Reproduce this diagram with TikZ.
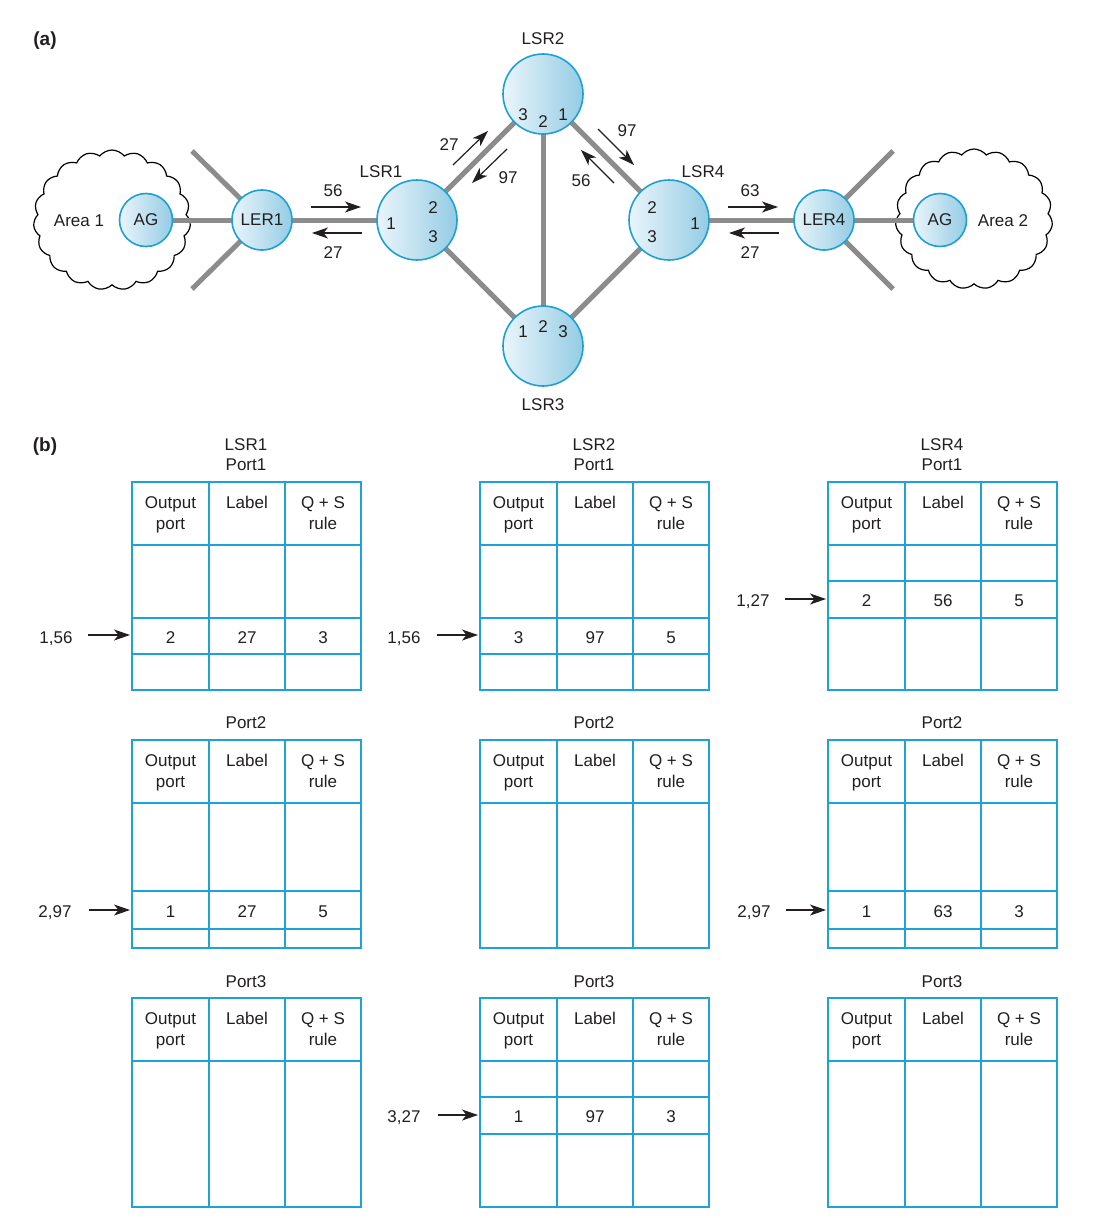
\documentclass[tikz,border=0pt]{standalone}
\usepackage{fontspec}
\setmainfont{Liberation Sans}
\usetikzlibrary{shapes.symbols,arrows.meta}
\definecolor{tblue}{RGB}{30,162,216}
\definecolor{cborder}{RGB}{28,160,214}
\definecolor{clight}{RGB}{234,245,251}
\definecolor{cdark}{RGB}{148,204,228}
\definecolor{lgray}{RGB}{140,140,140}
\definecolor{ink}{RGB}{35,31,32}
\pgfdeclarelayer{paperlayer}
\pgfdeclarelayer{cloudlayer}
\pgfdeclarelayer{linklayer}
\pgfsetlayers{paperlayer,cloudlayer,linklayer,main}
\tikzset{
  txt/.style={font=\fontsize{17}{20}\selectfont, text=ink, inner sep=0pt, anchor=base},
  boldtxt/.style={font=\fontsize{19}{21}\selectfont\bfseries, text=ink, inner sep=0pt, anchor=base},
  tbl/.style={draw=tblue, line width=2pt},
  link/.style={draw=lgray, line width=5pt},
  arr/.style={draw=ink, line width=1.2pt, -{Stealth[length=16pt,width=11pt,inset=4.5pt]}},
  router/.style={circle, draw=cborder, line width=1.6pt, left color=clight, right color=cdark, inner sep=0pt, font=\fontsize{17}{20}\selectfont, text=ink},
  lsr/.style={router, minimum size=80pt},
  ler/.style={router, minimum size=60pt},
  agn/.style={router, minimum size=53pt},
  areacloud/.style={cloud, draw=black, line width=1.2pt, fill=white, cloud puffs=19, cloud puff arc=105, minimum width=157pt, minimum height=140pt, aspect=1.12, inner sep=0pt}
}
% #1 prefix, #2 x left, #3 top, #4 bottom, #5 extra horizontal lines
\newcommand{\mplsTable}[5]{%
  \draw[tbl] (#2,#3) rectangle (#2+229,#4);
  \draw[tbl] (#2+77,#3) -- (#2+77,#4);
  \draw[tbl] (#2+153,#3) -- (#2+153,#4);
  \draw[tbl] (#2,#3+63) -- (#2+229,#3+63);
  \foreach \yy in {#5} {\draw[tbl] (#2,\yy) -- (#2+229,\yy);}
  \node[txt] (#1ha) at (#2+38.5,#3+26) {Output};
  \node[txt] (#1hb) at (#2+38.5,#3+47) {port};
  \node[txt] (#1hc) at (#2+115,#3+26) {Label};
  \node[txt] (#1hd) at (#2+191,#3+26) {Q + S};
  \node[txt] (#1he) at (#2+191,#3+47) {rule};
}
% #1 prefix, #2 x left, #3 baseline, #4 #5 #6 values
\newcommand{\mplsRow}[6]{%
  \node[txt] (#1va) at (#2+38.5,#3) {#4};
  \node[txt] (#1vb) at (#2+115,#3) {#5};
  \node[txt] (#1vc) at (#2+191,#3) {#6};
}
\begin{document}
\begin{tikzpicture}[x=1pt,y=-1pt]
\useasboundingbox (0,0) rectangle (1098,1218);
\begin{pgfonlayer}{paperlayer}
\fill[white] (0,0) rectangle (1098,1218);
\end{pgfonlayer}

% ---------- (a) ----------
\node[boldtxt] (lbla) at (45,45) {(a)};

% clouds
\begin{pgfonlayer}{cloudlayer}
\node[areacloud] (cloud1) at (112,220) {};
\node[areacloud] (cloud2) at (974,219) {};
\end{pgfonlayer}
\node[txt] (area1) at (79,226) {Area 1};
\node[txt] (area2) at (1003,226) {Area 2};

% routers
\node[agn] (ag1) at (146,220) {AG};
\node[ler] (ler1) at (262,220) {LER1};
\node[lsr] (lsr1) at (417,220) {};
\node[lsr] (lsr2) at (543,94) {};
\node[lsr] (lsr3) at (543,346) {};
\node[lsr] (lsr4) at (669,220) {};
\node[ler] (ler4) at (824,220) {LER4};
\node[agn] (ag2) at (940,220) {AG};

% spoke ends
\coordinate (s1) at (192,151);
\coordinate (s2) at (192,289);
\coordinate (s3) at (893,151);
\coordinate (s4) at (893,289);

\begin{pgfonlayer}{linklayer}
\draw[link] (ag1.center) -- (ler1.center);
\draw[link] (s1) -- (ler1.center);
\draw[link] (s2) -- (ler1.center);
\draw[link] (ler1.center) -- (lsr1.center);
\draw[link] (lsr1.center) -- (lsr2.center);
\draw[link] (lsr1.center) -- (lsr3.center);
\draw[link] (lsr2.center) -- (lsr3.center);
\draw[link] (lsr2.center) -- (lsr4.center);
\draw[link] (lsr3.center) -- (lsr4.center);
\draw[link] (lsr4.center) -- (ler4.center);
\draw[link] (ler4.center) -- (ag2.center);
\draw[link] (s3) -- (ler4.center);
\draw[link] (s4) -- (ler4.center);
\end{pgfonlayer}

% router names
\node[txt] (n1) at (381,177) {LSR1};
\node[txt] (n2) at (543,44) {LSR2};
\node[txt] (n3) at (543,410) {LSR3};
\node[txt] (n4) at (703,177) {LSR4};

% port numbers
\node[txt] (p11) at (391,229) {1};
\node[txt] (p12) at (433,213) {2};
\node[txt] (p13) at (433,242) {3};
\node[txt] (p23) at (523,120) {3};
\node[txt] (p22) at (543,127) {2};
\node[txt] (p21) at (563,120) {1};
\node[txt] (p31) at (523,337) {1};
\node[txt] (p32) at (543,332) {2};
\node[txt] (p33) at (563,337) {3};
\node[txt] (p42) at (652,213) {2};
\node[txt] (p43) at (652,242) {3};
\node[txt] (p41) at (695,229) {1};

% label arrows
\coordinate (h1a) at (311,207); \coordinate (h1b) at (361,207);
\coordinate (h2a) at (362,233); \coordinate (h2b) at (312,233);
\draw[arr] (h1a) -- (h1b);
\draw[arr] (h2a) -- (h2b);
\node[txt] (l56a) at (333,196) {56};
\node[txt] (l27a) at (333,258) {27};

\coordinate (h3a) at (728,207); \coordinate (h3b) at (778,207);
\coordinate (h4a) at (779,233); \coordinate (h4b) at (729,233);
\draw[arr] (h3a) -- (h3b);
\draw[arr] (h4a) -- (h4b);
\node[txt] (l63) at (750,196) {63};
\node[txt] (l27b) at (750,258) {27};

\coordinate (d1a) at (453,165); \coordinate (d1b) at (488,131);
\coordinate (d2a) at (507,149); \coordinate (d2b) at (472,183);
\coordinate (d3a) at (598,129); \coordinate (d3b) at (634,165);
\coordinate (d4a) at (614,183); \coordinate (d4b) at (581,150);
\draw[arr] (d1a) -- (d1b);
\draw[arr] (d2a) -- (d2b);
\draw[arr] (d3a) -- (d3b);
\draw[arr] (d4a) -- (d4b);
\node[txt] (l27c) at (449,150) {27};
\node[txt] (l97a) at (508,183) {97};
\node[txt] (l97b) at (627,136) {97};
\node[txt] (l56b) at (581,186) {56};

% ---------- (b) ----------
\node[boldtxt] (lblb) at (45,451) {(b)};

% titles
\node[txt] (tt1) at (246,450) {LSR1};
\node[txt] (tt1p) at (246,470) {Port1};
\node[txt] (tt2) at (594,450) {LSR2};
\node[txt] (tt2p) at (594,470) {Port1};
\node[txt] (tt4) at (942,450) {LSR4};
\node[txt] (tt4p) at (942,470) {Port1};
\node[txt] (tt12) at (246,728) {Port2};
\node[txt] (tt22) at (594,728) {Port2};
\node[txt] (tt42) at (942,728) {Port2};
\node[txt] (tt13) at (246,987) {Port3};
\node[txt] (tt23) at (594,987) {Port3};
\node[txt] (tt43) at (942,987) {Port3};

% tables
\mplsTable{ta}{132}{482}{690}{618,654}
\mplsRow{ta}{132}{643}{2}{27}{3}
\mplsTable{tb}{480}{482}{690}{618,654}
\mplsRow{tb}{480}{643}{3}{97}{5}
\mplsTable{tc}{828}{482}{690}{581,618}
\mplsRow{tc}{828}{606}{2}{56}{5}

\mplsTable{td}{132}{740}{948}{891,929}
\mplsRow{td}{132}{917}{1}{27}{5}
\mplsTable{te}{480}{740}{948}{948}
\mplsTable{tf}{828}{740}{948}{891,929}
\mplsRow{tf}{828}{917}{1}{63}{3}

\mplsTable{tg}{132}{998}{1207}{1207}
\mplsTable{th}{480}{998}{1207}{1097,1134}
\mplsRow{th}{480}{1122}{1}{97}{3}
\mplsTable{ti}{828}{998}{1207}{1207}

% input labels and arrows
\node[txt] (ina) at (56,643) {1,56};
\coordinate (ina1) at (88,635); \coordinate (ina2) at (130,635);
\draw[arr] (ina1) -- (ina2);
\node[txt] (inb) at (404,643) {1,56};
\coordinate (inb1) at (437,635); \coordinate (inb2) at (478,635);
\draw[arr] (inb1) -- (inb2);
\node[txt] (inc) at (753,606) {1,27};
\coordinate (inc1) at (785,599); \coordinate (inc2) at (826,599);
\draw[arr] (inc1) -- (inc2);
\node[txt] (ind) at (55,917) {2,97};
\coordinate (ind1) at (89,910); \coordinate (ind2) at (130,910);
\draw[arr] (ind1) -- (ind2);
\node[txt] (inf) at (754,917) {2,97};
\coordinate (inf1) at (786,910); \coordinate (inf2) at (826,910);
\draw[arr] (inf1) -- (inf2);
\node[txt] (inh) at (404,1122) {3,27};
\coordinate (inh1) at (438,1115); \coordinate (inh2) at (478,1115);
\draw[arr] (inh1) -- (inh2);
\end{tikzpicture}
\end{document}
